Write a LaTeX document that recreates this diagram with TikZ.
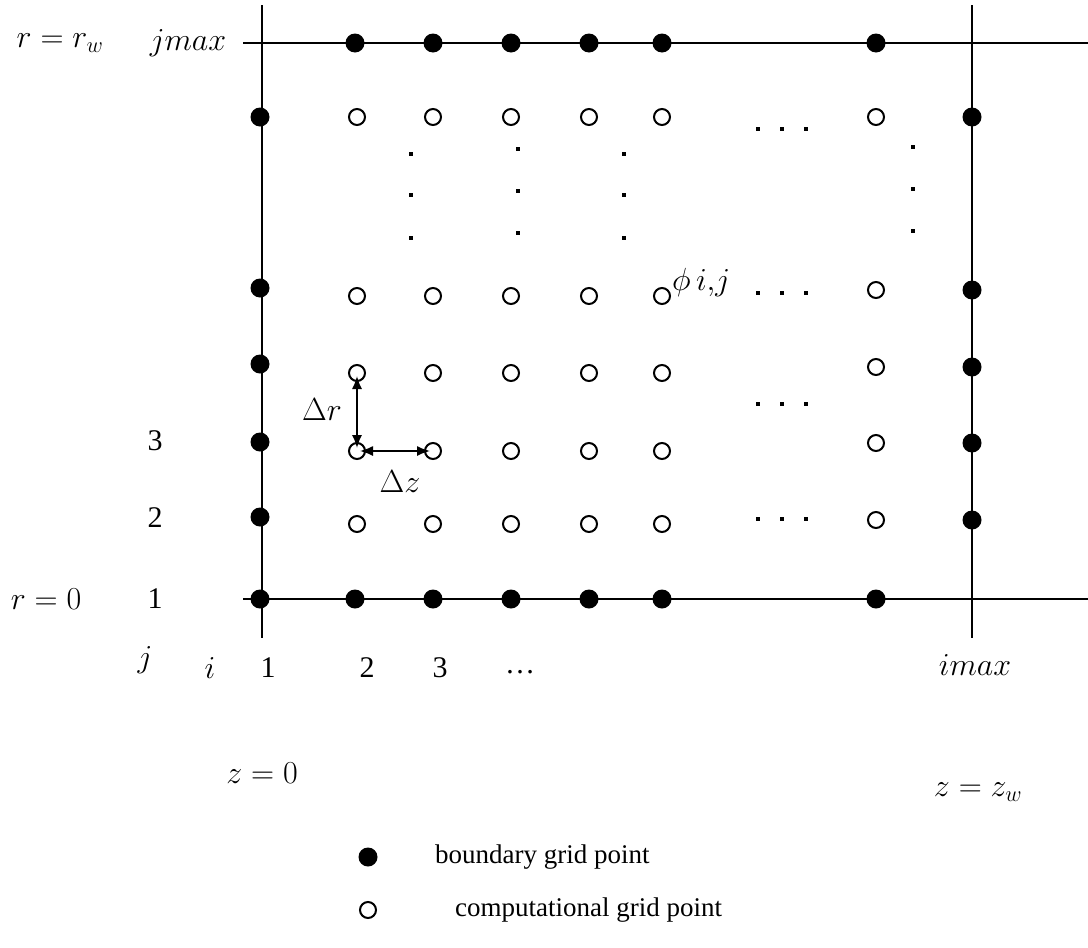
\RequirePackage{fix-cm}
\documentclass[tikz,border=0pt]{standalone}
\usepackage{fontspec}
\setmainfont{Liberation Serif}
\usetikzlibrary{arrows.meta}
\begin{document}
\begin{tikzpicture}[x=1pt,y=-1pt,
  every node/.style={font=\fontsize{27}{32}\selectfont},
  mth/.style={font=\fontsize{32}{38}\selectfont},
  dig/.style={font=\fontsize{30}{36}\selectfont},
  bnd/.style={circle,fill=black,inner sep=0pt,minimum size=19pt},
  cmp/.style={circle,draw=black,line width=2pt,fill=white,inner sep=0pt,minimum size=16pt},
  sdot/.style={rectangle,fill=black,inner sep=0pt,minimum size=4pt},
  axis/.style={line width=2pt},
  dim/.style={line width=1.6pt,{Latex[length=13pt,width=10pt]}-{Latex[length=13pt,width=10pt]},shorten <=3pt,shorten >=3pt},
  lbl/.style={inner sep=0pt,anchor=center}]
\useasboundingbox (0,0) rectangle (1088,948);
% axes
\coordinate (l1a) at (262,5);   \coordinate (l1b) at (262,638);
\coordinate (l2a) at (972,5);   \coordinate (l2b) at (972,638);
\coordinate (h1a) at (243,43);  \coordinate (h1b) at (1088,43);
\coordinate (h2a) at (243,599); \coordinate (h2b) at (1088,599);
\draw[axis] (l1a) -- (l1b);
\draw[axis] (l2a) -- (l2b);
\draw[axis] (h1a) -- (h1b);
\draw[axis] (h2a) -- (h2b);
% top boundary row
\foreach \x [count=\k] in {355,433,511,589,662,876}
  \node[bnd] (t\k) at (\x,43) {};
% bottom boundary row
\foreach \x [count=\k] in {260,355,433,511,589,662,876}
  \node[bnd] (b\k) at (\x,599) {};
% left boundary column
\foreach \y [count=\k] in {117,288,364,442,517}
  \node[bnd] (L\k) at (260,\y) {};
% right boundary column
\foreach \y [count=\k] in {117,290,367,443,520}
  \node[bnd] (R\k) at (972,\y) {};
% computational points
\foreach \y [count=\r] in {117,296,373,451,524}
  \foreach \x [count=\c] in {357,433,511,589,662}
    \node[cmp] (c\c-\r) at (\x,\y) {};
\foreach \y [count=\r] in {117,290,367,443,520}
  \node[cmp] (e\r) at (876,\y) {};
% vertical ellipses
\foreach \x/\ya/\yb/\yc [count=\k] in {411/154/195/238, 518/149/191/233, 624/154/195/238, 913/147/189/231}{
  \node[sdot] (va\k) at (\x,\ya) {};
  \node[sdot] (vb\k) at (\x,\yb) {};
  \node[sdot] (vc\k) at (\x,\yc) {};
}
% horizontal ellipses
\foreach \y [count=\k] in {129,293,404,519}{
  \node[sdot] (ha\k) at (758,\y) {};
  \node[sdot] (hb\k) at (782,\y) {};
  \node[sdot] (hc\k) at (806,\y) {};
}
% delta arrows
\draw[dim] (c1-3.center) -- (c1-4.center);
\draw[dim] (c1-4.center) -- (c2-4.center);
\node[lbl,mth] (dr) at (322,410) {$\Delta r$};
\node[lbl,mth] (dz) at (400,482) {$\Delta z$};
% phi label
\node[lbl,mth,anchor=west] (phi) at (672,282) {$\phi\, i{,}j$};
% left labels
\node[lbl,mth] (rw) at (60,43) {$r = r_w$};
\node[lbl,mth] (jmax) at (188,43) {$jmax$};
\node[lbl,dig] (j3) at (155,441) {3};
\node[lbl,dig] (j2) at (155,518) {2};
\node[lbl,dig] (j1) at (155,599) {1};
\node[lbl,mth] (r0) at (46,599) {$r = 0$};
\node[lbl,mth] (jl) at (145,660) {$j$};
\node[lbl,mth] (il) at (210,668) {$i$};
\node[lbl,dig] (i1) at (268,668) {1};
\node[lbl,dig] (i2) at (367,668) {2};
\node[lbl,dig] (i3) at (440,668) {3};
\node[lbl,dig] (idots) at (520,672) {\dots};
\node[lbl,mth] (imax) at (975,665) {$imax$};
\node[lbl,mth] (z0) at (262,773) {$z = 0$};
\node[lbl,mth] (zw) at (978,792) {$z = z_w$};
% legend
\node[bnd] (lg1) at (368,857) {};
\node[lbl,anchor=west] (lt1) at (435,857) {boundary grid point};
\node[cmp] (lg2) at (368,910) {};
\node[lbl,anchor=west] (lt2) at (455,910) {computational grid point};
\end{tikzpicture}
\end{document}
